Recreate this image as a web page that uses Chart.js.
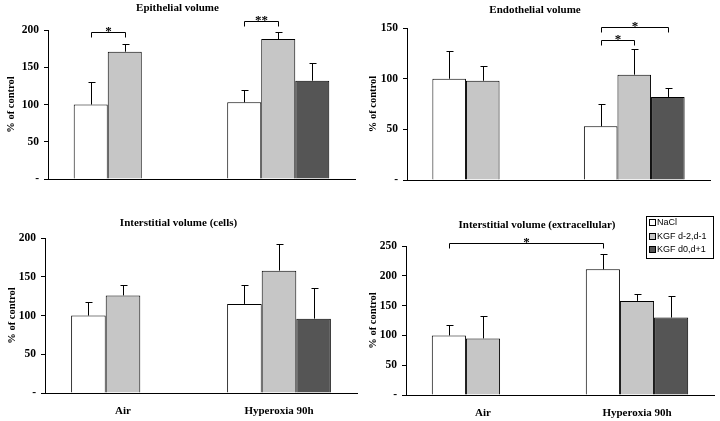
<!DOCTYPE html>
<html>
<head>
<meta charset="utf-8">
<script src="https://cdn.jsdelivr.net/npm/chart.js@4"></script>
<style>
  html, body { margin: 0; padding: 0; background: #fff; }
  #wrap { position: relative; width: 720px; height: 421px; }
  canvas { position: absolute; }
</style>
</head>
<body>
<div id="wrap">
  <canvas id="epi" width="360" height="200" style="left:0;top:0"></canvas>
  <canvas id="endo" width="360" height="200" style="left:360px;top:0"></canvas>
  <canvas id="cells" width="360" height="221" style="left:0;top:200px"></canvas>
  <canvas id="extra" width="360" height="221" style="left:360px;top:200px"></canvas>
</div>
<script>
const categories = ["Air", "Hyperoxia 90h"];
const seriesNames = ["NaCl", "KGF d-2,d-1", "KGF d0,d+1"];

// Epithelial volume
const epiNaCl = [100, 103];
const epiEarly = [171, 188];
const epiLate = [null, 132];
const epiNaClErr = [30, 16];
const epiEarlyErr = [11, 10];
const epiLateErr = [null, 24];
const epiTicks = ["-", "50", "100", "150", "200"];

// Endothelial volume
const endoNaCl = [100, 53];
const endoEarly = [98, 104];
const endoLate = [null, 82];
const endoNaClErr = [27, 22];
const endoEarlyErr = [15, 25];
const endoLateErr = [null, 9];
const endoTicks = ["-", "50", "100", "150"];

// Interstitial volume (cells)
const cellsNaCl = [100, 115];
const cellsEarly = [126, 158];
const cellsLate = [null, 96];
const cellsNaClErr = [17, 24];
const cellsEarlyErr = [14, 34];
const cellsLateErr = [null, 39];
const cellsTicks = ["-", "50", "100", "150", "200"];

// Interstitial volume (extracellular)
const extraNaCl = [100, 211];
const extraEarly = [95, 158];
const extraLate = [null, 130];
const extraNaClErr = [18, 25];
const extraEarlyErr = [38, 12];
const extraLateErr = [null, 37];
const extraTicks = ["-", "50", "100", "150", "200", "250"];

// significance brackets: [series, category] to [series, category] at a level
const epiSig = [
  { from: [0, 0], to: [1, 0], level: 197, text: "*" },
  { from: [0, 1], to: [1, 1], level: 212, text: "**" }
];
const endoSig = [
  { from: [0, 1], to: [1, 1], level: 138, text: "*" },
  { from: [0, 1], to: [2, 1], level: 151, text: "*" }
];
const extraSig = [
  { from: [0, 0], to: [0, 1], level: 255, text: "*" }
];

const colors = ["#ffffff", "#c6c6c6", "#555555"];
const serif = "'Liberation Serif', 'Times New Roman', serif";

const errorBars = {
  id: "errorBars",
  afterDatasetsDraw(chart) {
    const ctx = chart.ctx;
    const ys = chart.scales.y;
    ctx.save();
    ctx.strokeStyle = "#000";
    ctx.lineWidth = 1;
    chart.data.datasets.forEach((ds, i) => {
      chart.getDatasetMeta(i).data.forEach((bar, j) => {
        const v = ds.data[j], e = ds.errors[j];
        if (v == null || e == null) return;
        const x = Math.round(bar.x) + 0.5;
        const y0 = ys.getPixelForValue(v);
        const y1 = Math.round(ys.getPixelForValue(v + e)) + 0.5;
        ctx.beginPath();
        ctx.moveTo(x, y0);
        ctx.lineTo(x, y1);
        ctx.moveTo(x - 3, y1);
        ctx.lineTo(x + 4, y1);
        ctx.stroke();
      });
    });
    const sig = chart.options.plugins.errorBars.sig || [];
    ctx.fillStyle = "#000";
    ctx.font = "bold 13px " + serif;
    ctx.textAlign = "center";
    ctx.textBaseline = "alphabetic";
    sig.forEach(s => {
      const xa = Math.round(chart.getDatasetMeta(s.from[0]).data[s.from[1]].x) + 0.5;
      const xb = Math.round(chart.getDatasetMeta(s.to[0]).data[s.to[1]].x) + 0.5;
      const y = Math.round(ys.getPixelForValue(s.level)) + 0.5;
      ctx.beginPath();
      ctx.moveTo(xa, y + 5);
      ctx.lineTo(xa, y);
      ctx.lineTo(xb, y);
      ctx.lineTo(xb, y + 5);
      ctx.stroke();
      ctx.fillText(s.text, (xa + xb) / 2, y + 2);
    });
    ctx.restore();
  }
};

const boxLegend = {
  id: "boxLegend",
  afterDraw(chart) {
    const ctx = chart.ctx;
    ctx.save();
    ctx.strokeStyle = "#000";
    ctx.lineWidth = 1;
    ctx.strokeRect(286.5, 16.5, 67, 42);
    ctx.font = "9px 'Liberation Sans', Arial, sans-serif";
    ctx.textBaseline = "middle";
    ctx.textAlign = "left";
    const rows = [23, 37, 50];
    chart.data.datasets.forEach((ds, i) => {
      ctx.fillStyle = ds.backgroundColor;
      ctx.fillRect(289.5, rows[i] - 3.5, 6, 6);
      ctx.strokeRect(289.5, rows[i] - 3.5, 6, 6);
      ctx.fillStyle = "#000";
      ctx.fillText(ds.label, 297, rows[i]);
    });
    ctx.restore();
  }
};

function makePanel(id, p) {
  const datasets = p.values.map((vals, i) => ({
    label: seriesNames[i],
    data: vals,
    errors: p.errors[i],
    backgroundColor: colors[i],
    borderColor: "#000",
    borderWidth: 1,
    barPercentage: 1,
    categoryPercentage: 0.665
  }));
  return new Chart(document.getElementById(id), {
    type: "bar",
    data: { labels: categories, datasets: datasets },
    plugins: p.legend ? [errorBars, boxLegend] : [errorBars],
    options: {
      responsive: false,
      animation: false,
      layout: { padding: { left: 0, right: p.padRight, top: 0, bottom: 0 } },
      plugins: {
        legend: { display: false },
        tooltip: { enabled: false },
        title: {
          display: true,
          text: p.title,
          color: "#000",
          font: { family: serif, size: 11, weight: "bold", lineHeight: 1.1 },
          padding: { top: p.titleTop, bottom: p.titleBottom }
        },
        errorBars: { sig: p.sig }
      },
      scales: {
        x: {
          grid: { display: false, drawTicks: false },
          border: { color: "#000", width: 1 },
          ticks: {
            display: p.xLabels,
            color: "#000",
            padding: 12,
            font: { family: serif, size: 11, weight: "bold" }
          },
          afterFit: s => { s.height = p.xHeight; }
        },
        y: {
          min: 0,
          max: p.max,
          ticks: {
            stepSize: 50,
            color: "#000",
            padding: 5,
            font: { family: serif, size: 11.5, weight: "bold" },
            callback: (v, i) => p.ticks[i]
          },
          grid: { drawOnChartArea: false, drawTicks: true, tickLength: 4, color: "#000" },
          border: { color: "#000", width: 1 },
          title: {
            display: true,
            text: "% of control",
            color: "#000",
            font: { family: serif, size: 10.5, weight: "bold" },
            padding: { top: p.yTitlePad, bottom: 0 }
          },
          afterFit: s => { s.width = p.yWidth; }
        }
      }
    }
  });
}

makePanel("epi", {
  title: "Epithelial volume",
  values: [epiNaCl, epiEarly, epiLate],
  errors: [epiNaClErr, epiEarlyErr, epiLateErr],
  ticks: epiTicks, max: 200, sig: epiSig,
  yWidth: 48, padRight: 5, titleTop: 2, titleBottom: 16, xHeight: 21, xLabels: false, yTitlePad: 5
});
makePanel("endo", {
  title: "Endothelial volume",
  values: [endoNaCl, endoEarly, endoLate],
  errors: [endoNaClErr, endoEarlyErr, endoLateErr],
  ticks: endoTicks, max: 150, sig: endoSig,
  yWidth: 47, padRight: 10, titleTop: 4, titleBottom: 12, xHeight: 20, xLabels: false, yTitlePad: 7
});
makePanel("cells", {
  title: "Interstitial volume (cells)",
  values: [cellsNaCl, cellsEarly, cellsLate],
  errors: [cellsNaClErr, cellsEarlyErr, cellsLateErr],
  ticks: cellsTicks, max: 200, sig: [],
  yWidth: 45, padRight: 3, titleTop: 17, titleBottom: 9, xHeight: 28, xLabels: true, yTitlePad: 6
});
makePanel("extra", {
  title: "Interstitial volume (extracellular)",
  values: [extraNaCl, extraEarly, extraLate],
  errors: [extraNaClErr, extraEarlyErr, extraLateErr],
  ticks: extraTicks, max: 250, sig: extraSig, legend: true,
  yWidth: 46, padRight: 6, titleTop: 19, titleBottom: 15, xHeight: 26, xLabels: true, yTitlePad: 7
});
</script>
</body>
</html>
